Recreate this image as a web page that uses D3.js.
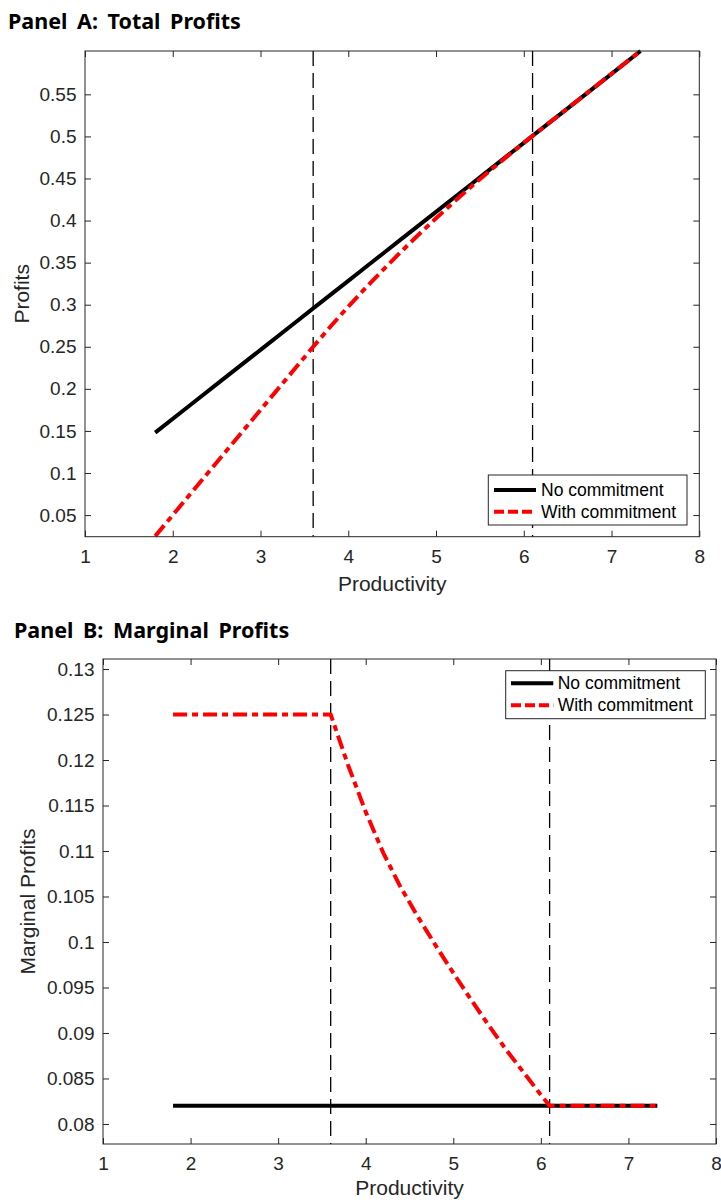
<!DOCTYPE html>
<html><head><meta charset="utf-8">
<script src="https://cdn.jsdelivr.net/npm/d3@7"></script>
<style>body{margin:0;background:#fff} svg{display:block}</style>
</head><body><div id="chart"></div>
<script>
// ---- data ----
const productivity       = [1.8, 2.2, 2.6, 3.0, 3.4, 3.6, 3.8, 4.0, 4.2, 4.4, 4.6, 4.8, 5.0, 5.2, 5.4, 5.6, 5.8, 6.0, 6.1, 6.5, 7.0, 7.33];
const profitsNoCommit    = [0.148, 0.1808, 0.2136, 0.2464, 0.2792, 0.2956, 0.3120, 0.3284, 0.3448, 0.3612, 0.3776, 0.3940, 0.4104, 0.4268, 0.4432, 0.4596, 0.4760, 0.4924, 0.5006, 0.5334, 0.5744, 0.6015];
const profitsWithCommit  = [0.025, 0.075, 0.125, 0.175, 0.225, 0.250, 0.2744, 0.2978, 0.3202, 0.3418, 0.3628, 0.3831, 0.4027, 0.4217, 0.4402, 0.4580, 0.4754, 0.4923, 0.5006, 0.5334, 0.5744, 0.6015];
const marginalNoCommit   = [0.082, 0.082, 0.082, 0.082, 0.082, 0.082, 0.082, 0.082, 0.082, 0.082, 0.082, 0.082, 0.082, 0.082, 0.082, 0.082, 0.082, 0.082, 0.082, 0.082, 0.082, 0.082];
const marginalWithCommit = [0.125, 0.125, 0.125, 0.125, 0.125, 0.125, 0.1194, 0.1143, 0.1098, 0.1060, 0.1027, 0.0996, 0.0966, 0.0937, 0.0909, 0.0882, 0.0857, 0.0832, 0.082, 0.082, 0.082, 0.082];
const thresholds = [3.6, 6.1];
const xTicks  = [1, 2, 3, 4, 5, 6, 7, 8];
const yTicksA = [0.05, 0.1, 0.15, 0.2, 0.25, 0.3, 0.35, 0.4, 0.45, 0.5, 0.55];
const yTicksB = [0.08, 0.085, 0.09, 0.095, 0.1, 0.105, 0.11, 0.115, 0.12, 0.125, 0.13];
const seriesNames = ["No commitment", "With commitment"];

const W = 721, H = 1200;
const svg = d3.select("#chart").append("svg").attr("width", W).attr("height", H);
svg.append("rect").attr("width", W).attr("height", H).attr("fill", "#fff");

const AX = "#262626";
const TICKFONT = "Liberation Sans, Arial, sans-serif";
const RED_DASH = "14,5,6,5";

function panel(cfg) {
  const g = svg.append("g");
  const x = d3.scaleLinear().domain([1, 8]).range([cfg.l, cfg.r]);
  const y = d3.scaleLinear().domain(cfg.yDomain).range([cfg.b, cfg.t]);

  // title
  g.append("text").attr("x", cfg.titleX).attr("y", cfg.titleY)
    .attr("font-family", "Noto Sans, sans-serif").attr("font-weight", 700)
    .attr("font-size", 21.5).attr("word-spacing", "4px").attr("fill", "#000")
    .text(cfg.title);

  // threshold vertical lines
  g.selectAll(".thr").data(thresholds).join("line")
    .attr("x1", d => x(d)).attr("x2", d => x(d))
    .attr("y1", cfg.t).attr("y2", cfg.b)
    .attr("stroke", "#000").attr("stroke-width", 1.3)
    .attr("stroke-dasharray", "15,7");

  const pts = (ys) => productivity.map((p, i) => [p, ys[i]]);
  const line = d3.line().x(d => x(d[0])).y(d => y(d[1]));

  g.append("path").attr("d", line(pts(cfg.black)))
    .attr("fill", "none").attr("stroke", "#000").attr("stroke-width", 4);
  g.append("path").attr("d", line(pts(cfg.red)))
    .attr("fill", "none").attr("stroke", "#ff0000").attr("stroke-width", 4)
    .attr("stroke-linejoin", "round")
    .attr("stroke-dasharray", RED_DASH);

  // axes with inward ticks on all sides
  const styleAxis = (sel) => {
    sel.select(".domain").remove();
    sel.selectAll(".tick line").attr("stroke", AX).attr("stroke-width", 1);
    sel.selectAll("text").attr("font-family", TICKFONT).attr("font-size", 19).attr("fill", AX);
  };
  g.append("g").attr("transform", `translate(0,${cfg.b})`)
    .call(d3.axisBottom(x).tickValues(xTicks).tickFormat(d3.format("d"))
      .tickSizeInner(-6).tickSizeOuter(0).tickPadding(12.5)).call(styleAxis);
  g.append("g").attr("transform", `translate(0,${cfg.t})`)
    .call(d3.axisTop(x).tickValues(xTicks).tickFormat("")
      .tickSizeInner(-6).tickSizeOuter(0)).call(styleAxis);
  g.append("g").attr("transform", `translate(${cfg.l},0)`)
    .call(d3.axisLeft(y).tickValues(cfg.yTicks).tickFormat(d3.format("~g"))
      .tickSizeInner(-6).tickSizeOuter(0).tickPadding(8.5)).call(styleAxis);
  g.append("g").attr("transform", `translate(${cfg.r},0)`)
    .call(d3.axisRight(y).tickValues(cfg.yTicks).tickFormat("")
      .tickSizeInner(-6).tickSizeOuter(0)).call(styleAxis);

  g.append("rect").attr("x", cfg.l).attr("y", cfg.t)
    .attr("width", cfg.r - cfg.l).attr("height", cfg.b - cfg.t)
    .attr("fill", "none").attr("stroke", AX).attr("stroke-width", 1);

  // axis labels
  g.append("text").attr("x", (cfg.l + cfg.r) / 2).attr("y", cfg.xLabelY)
    .attr("text-anchor", "middle").attr("font-family", TICKFONT)
    .attr("font-size", 21).attr("fill", AX).text("Productivity");
  g.append("text")
    .attr("transform", `translate(${cfg.yLabelX},${(cfg.t + cfg.b) / 2}) rotate(-90)`)
    .attr("text-anchor", "middle").attr("font-family", TICKFONT)
    .attr("font-size", 21).attr("fill", AX).text(cfg.yLabel);

  // legend
  const L = cfg.legend;
  g.append("rect").attr("x", L.x0).attr("y", L.y0)
    .attr("width", L.x1 - L.x0).attr("height", L.y1 - L.y0)
    .attr("fill", "#fff").attr("stroke", AX).attr("stroke-width", 1);
  const styles = [{c: "#000", d: null}, {c: "#ff0000", d: "10,4"}];
  seriesNames.forEach((name, i) => {
    const ly = L.rows[i];
    g.append("line").attr("x1", L.lx0).attr("x2", L.lx1).attr("y1", ly).attr("y2", ly)
      .attr("stroke", styles[i].c).attr("stroke-width", 4)
      .attr("stroke-dasharray", styles[i].d);
    g.append("text").attr("x", L.tx).attr("y", ly).attr("dy", "0.35em")
      .attr("font-family", TICKFONT).attr("font-size", 17.5).attr("fill", "#000")
      .text(name);
  });
}

panel({
  l: 85, r: 699.3, t: 51, b: 536.7,
  yDomain: [0.0243, 0.6015], yTicks: yTicksA,
  black: profitsNoCommit, red: profitsWithCommit,
  title: "Panel A: Total Profits", titleX: 8, titleY: 29,
  xLabelY: 590.5, yLabelX: 29, yLabel: "Profits",
  legend: {x0: 488.3, y0: 475, x1: 687, y1: 525, rows: [490, 511.7], lx0: 494, lx1: 536, tx: 541}
});
panel({
  l: 103, r: 716, t: 659, b: 1144,
  yDomain: [0.0778, 0.1311], yTicks: yTicksB,
  black: marginalNoCommit, red: marginalWithCommit,
  title: "Panel B: Marginal Profits", titleX: 14, titleY: 638,
  xLabelY: 1194.5, yLabelX: 35, yLabel: "Marginal Profits",
  legend: {x0: 505.7, y0: 670.7, x1: 705.3, y1: 718.7, rows: [683.3, 705.3], lx0: 511, lx1: 553.3, tx: 557.7}
});
</script>
</body></html>
